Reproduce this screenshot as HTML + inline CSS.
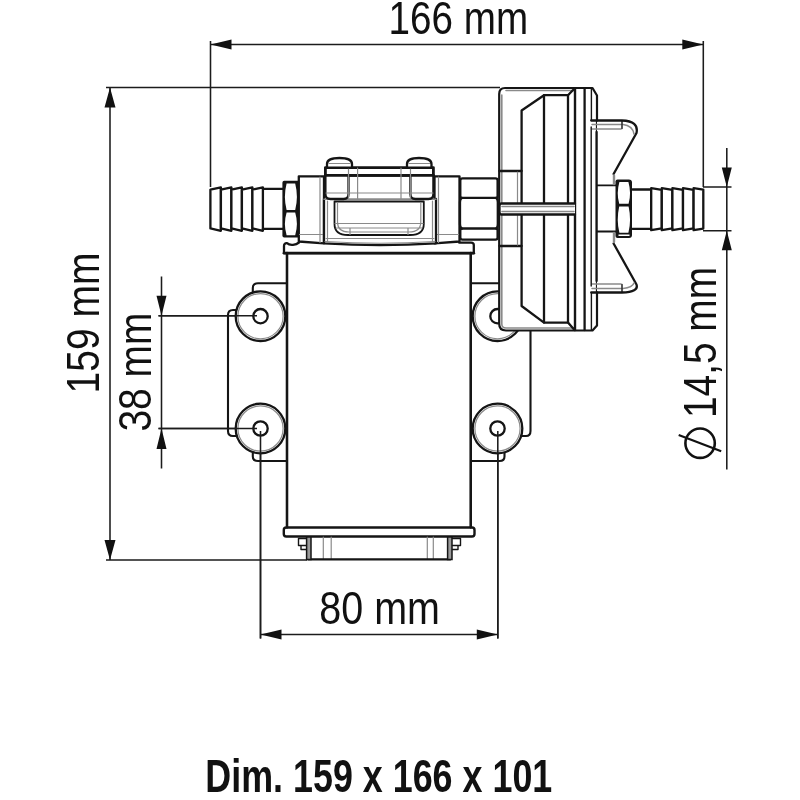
<!DOCTYPE html>
<html><head><meta charset="utf-8">
<style>
html,body{margin:0;padding:0;background:#fff;}
body{width:800px;height:800px;overflow:hidden;font-family:"Liberation Sans",sans-serif;}
svg{display:block;filter:blur(0.5px);}
text{font-family:"Liberation Sans",sans-serif;fill:#111;}
.m{stroke:#151515;stroke-width:2.3;fill:none;stroke-linejoin:round;stroke-linecap:round;}
.mw{stroke:#151515;stroke-width:2.3;fill:#fff;stroke-linejoin:round;stroke-linecap:round;}
.t{stroke:#151515;stroke-width:1.4;fill:none;stroke-linejoin:round;stroke-linecap:round;}
.g{stroke:#8a8a8a;stroke-width:1.2;fill:none;stroke-linecap:round;}
.d{stroke:#1c1c1c;stroke-width:1.55;fill:none;}
.a{fill:#111;stroke:none;}
</style></head>
<body>
<svg width="800" height="800" viewBox="0 0 800 800">
<rect width="800" height="800" fill="#fff"/>

<!-- ===== DIMENSION LINES ===== -->
<g id="dims">
<!-- 166 -->
<path class="d" d="M210.5 41V187 M703.3 41V187 M210.5 44.5H703.3"/>
<path class="a" d="M210.5 44.5l21-5v10z M703.3 44.5l-21-5v10z"/>
<!-- 159 -->
<path class="d" d="M110 88V560 M106 87.5H500 M106 560H307"/>
<path class="a" d="M110 87.5l-5.5 20h11z M110 560l-5.5-20h11z"/>
<!-- 38 -->
<path class="d" d="M161.5 276.5V468.5 M158.5 315.8H257 M158.5 428.4H257"/>
<path class="a" d="M161.5 315.8l-5-20h10z M161.5 428.4l-5 20.5h10z"/>
<!-- 80 -->
<path class="d" d="M260.5 431V638.5 M497.8 431V638.5 M260.5 634.5H497.8"/>
<path class="a" d="M260.5 634.5l21-5v10z M497.8 634.5l-21-5v10z"/>
<!-- dia 14,5 -->
<path class="d" d="M726.8 148V469.5 M703 187H731.5 M703 230.8H731.5"/>
<path class="a" d="M726.8 187l-5-19.5h10z M726.8 230.8l-5 19.5h10z"/>
</g>

<!-- ===== TEXT ===== -->
<g id="txt">
<text x="388.6" y="33.8" font-size="45.5" textLength="139.5" lengthAdjust="spacingAndGlyphs">166 mm</text>
<text x="319.3" y="624" font-size="45.5" textLength="120.6" lengthAdjust="spacingAndGlyphs">80 mm</text>
<text transform="translate(98.5 393.4) rotate(-90)" font-size="45.5" textLength="141" lengthAdjust="spacingAndGlyphs">159 mm</text>
<text transform="translate(151 431.6) rotate(-90)" font-size="45.5" textLength="119" lengthAdjust="spacingAndGlyphs">38 mm</text>
<text transform="translate(715.8 418) rotate(-90)" font-size="45.5" textLength="151" lengthAdjust="spacingAndGlyphs">14,5 mm</text>
<g transform="translate(700.1 443.2)"><circle r="14.7" fill="none" stroke="#111" stroke-width="2.6"/><path d="M-21.4 -8.2L21.1 8" stroke="#111" stroke-width="2.2" /></g>
<text x="205.3" y="791.5" font-size="45.5" font-weight="bold" textLength="347" lengthAdjust="spacingAndGlyphs">Dim. 159 x 166 x 101</text>
</g>

<!-- ===== PUMP ===== -->
<g id="pump">
<!-- motor body -->
<path class="m" d="M287 253V527.5 M470.8 253V527.5"/>
<!-- flange -->
<rect style="stroke-width:2.4" class="mw" x="283.8" y="527.5" width="190.7" height="9" rx="2.5"/>
<!-- bottom cap -->
<path class="g" d="M323.3 537V558.5 M331.2 537V558.5 M427.3 537V558.5 M433.3 537V558.5"/>
<path style="stroke-width:2.2" class="m" d="M308 559.3H450.5"/>
<path d="M306.6 537H311V559.5H306.6Z M447.6 537H452V559.5H447.6Z" fill="#9a9a9a" stroke="#151515" stroke-width="1.5"/>
<path class="t" d="M306 538.5H298.5V545.5H301V549.5H306 M452.5 538.5H460.5V545.5H458V549.5H452.5 M299 545.5H306 M460 545.5H452.5"/>
<!-- platform under pump head -->
<path class="mw" d="M299 242.5C296 245 290 246 287 243.2Q284 243 284 246V253.2H473.8V245Q473.8 242.6 471 242.6H459"/>
<path style="stroke-width:2.8" class="m" d="M284 253.2H473.8"/>
<!-- left barb -->
<g class="mw">
<path d="M210.4 189.6L220.9 187.4V230.8L210.4 228.4Z"/>
<path d="M220.9 189.6L231.4 187.4V230.8L220.9 228.4Z"/>
<path d="M231.4 189.6L241.9 187.4V230.8L231.4 228.4Z"/>
<path d="M241.9 189.6L252.4 187.4V230.8L241.9 228.4Z"/>
<path d="M252.4 189.6L262.9 187.4V230.8L252.4 228.4Z"/>
<path d="M262.9 188.8H283.3 M262.9 228.8H283.3"/>
</g>
<!-- left nut -->
<path d="M284.2 180.8H298.5V237.4H284.2Q282.4 237.4 282.4 235.5V182.7Q282.4 180.8 284.2 180.8Z" fill="#151515"/>
<path fill="#fff" d="M286.6 183.6H295.2Q298.6 197 295.2 209.9H286.6Q283.2 197 286.6 183.6Z M286.6 212.6H295.2Q298.6 224 295.2 235.2H286.6Q283.2 224 286.6 212.6Z"/>
<!-- left pump block -->
<path class="mw" d="M298.8 176.3H324V243.3L298.8 241.5Z"/>
<path class="g" d="M320 177V242.5 M299.5 234.5H323"/>
<!-- right pump block -->
<path class="mw" d="M434.5 176.3H459.5V241.5L434.5 243.3Z"/>
<path class="g" d="M438.5 177V242.5 M435 234.5H459"/>
<!-- head center -->
<path d="M324 199V243.3Q380 246.8 436 243.3V199Z" fill="#fff"/><path class="m" d="M324 199V243.3Q380 246.8 436 243.3V199"/><path style="stroke-width:1.6" class="g" d="M324 199.2H436"/>
<path class="g" d="M327.5 201V241 M432.5 201V241 M326 238.5H434 M325 241.5Q380 245 435 241.5"/>
<!-- window -->
<path style="stroke-width:1.8" class="m" d="M334.5 201.5V224Q334.5 235 348 235H410Q423.8 235 423.8 224V201.5Z"/>
<path class="g" d="M337.5 203V222Q337.5 232 349 232H409Q420.8 232 420.8 222V203 M335 223.5H423 M336 228H422 M350 228V234.5 M408 228V234.5"/>
<!-- clamp bar -->
<path style="stroke-width:2.8" class="mw" d="M325.4 167.6H433.4V175.4H325.4Z"/>
<path class="mw" d="M325.4 175.4V194Q325.4 199 330.5 199H343.5Q348.5 199 348.5 194V175.4"/>
<path class="mw" d="M410.4 175.4V194Q410.4 199 415.5 199H428.4Q433.4 199 433.4 194V175.4"/>
<path style="stroke-width:2.8" class="m" d="M325.4 175.4H433.4"/>
<path class="g" d="M348.5 168V199 M357.6 168V199 M401 168V199 M410.5 168V199 M326 193H433 M348.5 199H410.4"/>
<!-- screws -->
<path class="mw" d="M327 167.6V164Q327 158 339.5 158Q352 158 352 164V167.6Z"/>
<path class="mw" d="M407 167.6V164Q407 158 419 158Q431.5 158 431.5 164V167.6Z"/>
<path class="g" d="M329 163.5H350 M409 163.5H429.5"/>
<!-- right big nut -->
<path class="mw" d="M462.5 178.3H495.5Q497.6 178.3 497.6 180.5V196Q497.6 197.8 496 197.8Q497.8 199 497.8 202V224Q497.8 228 496 228.5Q497.6 228.6 497.6 230.5V237.5Q497.6 239.6 495.5 239.6H462.5Q460.3 239.6 460.3 237.5V230.5Q460.3 228.6 462 228.5Q460 228 460 224V202Q460 199 462 197.8Q460.3 197.8 460.3 196V180.5Q460.3 178.3 462.5 178.3Z"/>
<path class="m" d="M462 197.8H496 M462 228.5H496"/>

<!-- feet brackets (behind) -->
<g style="stroke-width:2.1" class="t">
<path d="M286.8 283.3H258Q252.8 283.3 252.8 288V291.5"/>
<path d="M236.5 310H233Q228 310 228 315V431Q228 436 233 436H236.5"/>
<path d="M286.8 461H258Q252.8 461 252.8 456.5V453"/>
<path d="M471 283.3H498.5"/>
<path d="M530.5 331V431Q530.5 436 526 436H522"/>
<path d="M471 461H499.5Q504.5 461 504.5 456.5V453"/>
</g>
<!-- feet circles -->
<g>
<circle class="mw" cx="260.5" cy="316.2" r="24.8"/><circle class="g" cx="260.5" cy="316.2" r="22.6"/><circle class="mw" cx="260.5" cy="316.2" r="7.2"/>
<circle class="mw" cx="260.5" cy="428.5" r="24.8"/><circle class="g" cx="260.5" cy="428.5" r="22.6"/><circle class="mw" cx="260.5" cy="428.5" r="7.2"/>
<circle class="mw" cx="497.5" cy="316.2" r="24.8"/><circle class="g" cx="497.5" cy="316.2" r="22.6"/><circle class="mw" cx="497.5" cy="316.2" r="7.2"/>
<circle class="mw" cx="497.5" cy="428.5" r="24.8"/><circle class="g" cx="497.5" cy="428.5" r="22.6"/><circle class="mw" cx="497.5" cy="428.5" r="7.2"/>
</g>
<!-- motor body edges over circles -->
<path class="m" d="M287 253V527.5 M470.8 253V527.5"/>
<!-- dim lines over feet -->
<path class="d" d="M158.5 315.8H257 M158.5 428.4H257 M260.5 431V638.5 M497.8 431V638.5"/>

<!-- right housing -->
<path style="stroke-width:2.2" class="mw" d="M505 88H592.5L597 95.5V325.5L592.5 330.5H506Q499.2 330.5 499.2 324V94Q499.2 88 505 88Z"/>
<path style="stroke-width:1.6" class="g" d="M506 90.5H574 M501.8 95V324Q501.8 328 506 328H574"/>
<!-- top line 159 continuing -->
<!-- mount blocks left of housing -->
<path class="m" d="M499.5 171H521.6 M499.5 246H521.6"/>
<path class="g" d="M517.5 172V203 M517.5 215V245"/>
<!-- inner diaphragm shape -->
<path class="m" d="M521.6 203.5V110.5L544 95.2H568L574.5 88.5"/>
<path class="m" d="M521.6 214.5V306L544 322.6H568L574.5 330"/>
<path class="m" d="M544 95.2V203.5 M544 214.5V322.6 M568 95.2V203.5 M568 214.5V322.6"/>
<path style="stroke-width:2.4" class="m" d="M575 88.5V330"/>
<path class="m" d="M584.6 88.5V330"/>
<path class="t" d="M591.4 89V120 M591.4 293V330"/>
<!-- center rod -->
<path class="mw" d="M575 203.5H501.5Q499.5 203.5 499.5 206V212Q499.5 214.5 501.5 214.5H575"/>
<path style="stroke-width:1.6" class="g" d="M502 206.5H574 M502 211.5H574"/>
<!-- clip -->
<path fill="#fff" d="M597 120.5H622Q639 121 636.5 133L614 174V243.5L636.5 284.5Q639 292 622 292.5H597Z"/><path class="m" d="M597 120.5H622Q639 121 636.5 133L613.6 174 M613.6 243.5L636.5 284.5Q639 292 622 292.5H597"/>
<path class="m" d="M591.2 120.5H597 M591.2 292.5H597"/>
<path style="stroke-width:1.5" class="g" d="M592 124.6H621 M592 129H621 M623 124.5Q632.5 125.5 634 134 M592 288.4H621 M592 284H621 M623 288.5Q632.5 287.5 634 283"/>
<path class="t" d="M622 121V128.5 M622 292V284.5"/>
<path class="m" d="M596.6 132V281"/>
<path class="t" d="M591.2 127V286"/>
<!-- stud between housing and nut -->
<path class="t" style="stroke-width:1.8" d="M597 185.3H616 M597 231.5H616"/>
<path class="g" style="stroke-width:2.4" d="M614 175.5V184 M614 233V242"/>
<!-- right small nut -->
<path d="M617.5 179.5H628.8Q632 179.5 632 182.5V235Q632 238 629 238H617.5Q615.5 238 615.5 236V181.5Q615.5 179.5 617.5 179.5Z" fill="#151515"/>
<path fill="#fff" d="M619.4 182H628.4Q631.6 193 628.6 203.8H619.2Q616.2 193 619.4 182Z M619.2 206.4H628.6Q631.6 220 628.4 232.8H619.4Q616.2 220 619.2 206.4Z M618.5 234.6H629.5V236H618.5Z"/>
<!-- right barb -->
<g class="mw">
<path d="M632.5 189.5H651.2V228.8H632.5"/>
<path d="M651.2 188.2L661.8 189.8V228.4L651.2 230.2Z"/>
<path d="M661.8 188.2L672.4 189.8V228.4L661.8 230.2Z"/>
<path d="M672.4 188.2L683 189.8V228.4L672.4 230.2Z"/>
<path d="M683 188.2L693.6 189.8V228.4L683 230.2Z"/>
<path d="M693.6 188.2L703.3 189.6V228.6L693.6 230.2Z"/>
</g>

<!-- PUMP-PARTS3 -->
</g>
</svg>
</body></html>
